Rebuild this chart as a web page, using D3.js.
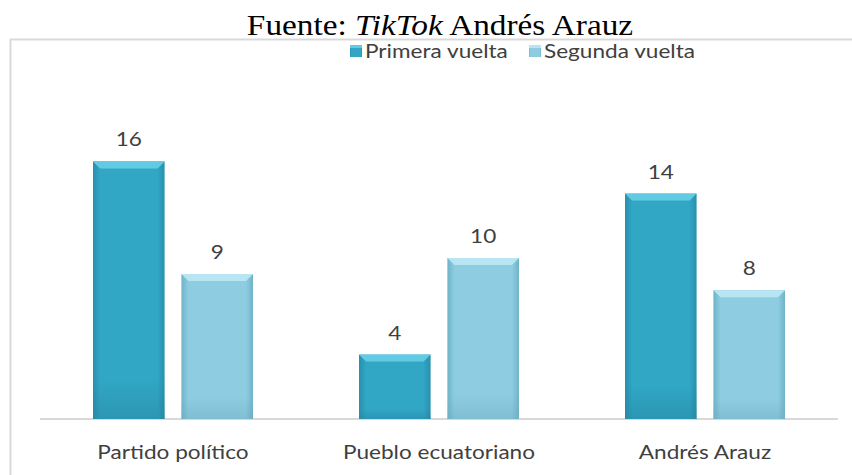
<!DOCTYPE html>
<html>
<head>
<meta charset="utf-8">
<script src="https://cdn.jsdelivr.net/npm/d3@7"></script>
<style>
  body { margin: 0; background: #fff; }
  svg { display: block; }
</style>
</head>
<body>
<div id="chart"></div>
<script>
const categories = ["Partido político", "Pueblo ecuatoriano", "Andrés Arauz"];
const seriesNames = ["Primera vuelta", "Segunda vuelta"];
const primera = [16, 4, 14];
const segunda = [9, 10, 8];

const W = 852, H = 475;
const labelFont = "Lato, 'Open Sans', sans-serif";
const stretch = 1.13; // the source picture is a bit wider than tall

const svg = d3.select("#chart").append("svg")
  .attr("width", W)
  .attr("height", H);

svg.append("rect").attr("width", W).attr("height", H).attr("fill", "#fff");

// gradients for the bevelled bars
const defs = svg.append("defs");
const palette = {
  "Primera vuelta": { edge: "#2790ad", main: "#31a6c5", top: "#62cbe3", bottom: "#237f99" },
  "Segunda vuelta": { edge: "#6fb3c9", main: "#8ecde1", top: "#b8e5f2", bottom: "#6aa7bc" }
};
seriesNames.forEach((s, i) => {
  const p = palette[s];
  const g = defs.append("linearGradient").attr("id", "h" + i)
    .attr("x1", 0).attr("x2", 1).attr("y1", 0).attr("y2", 0);
  g.append("stop").attr("offset", "0").attr("stop-color", p.edge);
  g.append("stop").attr("offset", "0.1").attr("stop-color", p.main);
  g.append("stop").attr("offset", "0.9").attr("stop-color", p.main);
  g.append("stop").attr("offset", "1").attr("stop-color", p.edge);
  const v = defs.append("linearGradient").attr("id", "v" + i)
    .attr("x1", 0).attr("x2", 0).attr("y1", 0).attr("y2", 1);
  v.append("stop").attr("offset", "0.85").attr("stop-color", p.bottom).attr("stop-opacity", 0);
  v.append("stop").attr("offset", "1").attr("stop-color", p.bottom).attr("stop-opacity", 0.4);
});

// outer frame
svg.append("rect")
  .attr("x", 10.5).attr("y", 39.5)
  .attr("width", 900).attr("height", 500)
  .attr("fill", "none")
  .attr("stroke", "#d9d9d9")
  .attr("stroke-width", 2);

// title
const title = svg.append("text")
  .attr("transform", `translate(440,35) scale(1.11,1)`)
  .attr("text-anchor", "middle")
  .style("font-family", "'Liberation Serif', 'Times New Roman', serif")
  .style("font-size", "30px")
  .attr("fill", "#000");
title.append("tspan").text("Fuente: ");
title.append("tspan").style("font-style", "italic").text("TikTok");
title.append("tspan").text(" Andrés Arauz");

const x0 = d3.scaleBand().domain(categories).range([40, 838]);
const x1 = d3.scaleBand().domain(seriesNames).range([53, 213]).paddingInner(0.19);
const y = d3.scaleLinear().domain([0, 20]).range([419, 97]);

const rows = categories.map((c, i) => ({
  cat: c,
  vals: [
    { s: seriesNames[0], v: primera[i], k: 0 },
    { s: seriesNames[1], v: segunda[i], k: 1 }
  ]
}));

// baseline
svg.append("line")
  .attr("x1", x0.range()[0]).attr("x2", x0.range()[1])
  .attr("y1", y(0)).attr("y2", y(0))
  .attr("stroke", "#d9d9d9").attr("stroke-width", 2);

const groups = svg.selectAll(".grp").data(rows).join("g")
  .attr("class", "grp")
  .attr("transform", d => `translate(${x0(d.cat)},0)`);

const bars = groups.selectAll(".bar").data(d => d.vals).join("g").attr("class", "bar");

bars.append("rect")
  .attr("x", d => x1(d.s))
  .attr("y", d => y(d.v))
  .attr("width", x1.bandwidth())
  .attr("height", d => y(0) - y(d.v))
  .attr("fill", d => `url(#h${d.k})`);

bars.append("rect")
  .attr("x", d => x1(d.s))
  .attr("y", d => y(d.v))
  .attr("width", x1.bandwidth())
  .attr("height", d => y(0) - y(d.v))
  .attr("fill", d => `url(#v${d.k})`);

// top bevel
bars.append("path")
  .attr("d", d => {
    const xa = x1(d.s), xb = xa + x1.bandwidth(), yt = y(d.v), b = 7;
    return `M${xa},${yt}L${xb},${yt}L${xb - b},${yt + b}L${xa + b},${yt + b}Z`;
  })
  .attr("fill", d => palette[d.s].top);

// value labels
bars.append("text")
  .attr("transform", d => `translate(${x1(d.s) + x1.bandwidth() / 2},${y(d.v) - 15}) scale(${stretch},1)`)
  .attr("text-anchor", "middle")
  .style("font-family", labelFont)
  .style("font-size", "20px")
  .attr("fill", "#404040")
  .text(d => d.v);

// category labels
svg.selectAll(".cat").data(categories).join("text")
  .attr("class", "cat")
  .attr("transform", d => `translate(${x0(d) + x0.bandwidth() / 2},459) scale(${stretch},1)`)
  .attr("text-anchor", "middle")
  .style("font-family", labelFont)
  .style("font-size", "20px")
  .attr("fill", "#404040")
  .text(d => d);

// legend
const legendX = [350, 529];
const legend = svg.selectAll(".leg").data(seriesNames).join("g")
  .attr("class", "leg")
  .attr("transform", (d, i) => `translate(${legendX[i]},51)`);
legend.append("rect")
  .attr("x", 0).attr("y", -6)
  .attr("width", 12).attr("height", 12)
  .attr("fill", (d, i) => `url(#h${i})`);
legend.append("rect")
  .attr("x", 0).attr("y", -6)
  .attr("width", 12).attr("height", 3)
  .attr("fill", d => palette[d].top);
legend.append("text")
  .attr("transform", `translate(15,7) scale(${stretch},1)`)
  .style("font-family", labelFont)
  .style("font-size", "20px")
  .attr("fill", "#404040")
  .text(d => d);
</script>
</body>
</html>
